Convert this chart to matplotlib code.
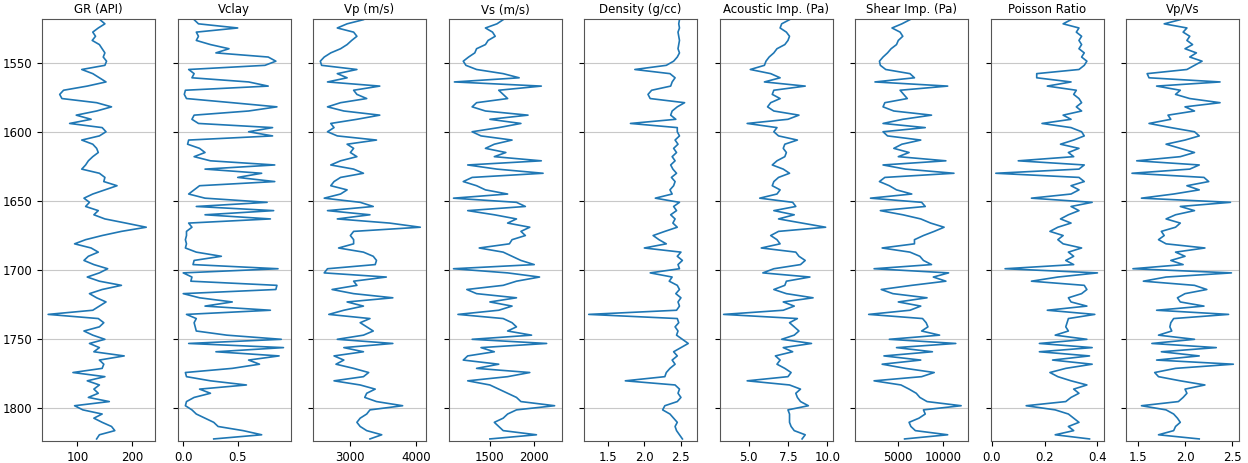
import numpy as np
import matplotlib
matplotlib.use("Agg")
import matplotlib.pyplot as plt

# depth samples (every 3 ft)
depth = np.arange(1519, 1823, 3)

gr = [141, 150, 138, 128, 133, 127, 140, 145, 150, 147,
      153, 150, 108, 128, 140, 152, 118, 75, 68, 72,
      135, 162, 135, 98, 125, 86, 145, 152, 140, 108,
      128, 135, 138, 128, 120, 115, 108, 140, 150, 148,
      172, 150, 128, 112, 122, 115, 138, 130, 150, 188,
      225, 180, 145, 115, 95, 125, 138, 120, 112, 130,
      155, 140, 118, 140, 180, 145, 122, 135, 152, 140,
      128, 47, 138, 148, 140, 112, 128, 150, 122, 140,
      130, 185, 140, 148, 145, 92, 150, 118, 140, 130,
      138, 120, 158, 95, 110, 145, 130, 145, 162, 168,
      140, 135]

vclay = [0.10, 0.14, 0.50, 0.12, 0.14, 0.12, 0.25, 0.42, 0.30, 0.78,
         0.85, 0.75, 0.05, 0.10, 0.08, 0.60, 0.78, 0.02, 0.01, 0.03,
         0.45, 0.86, 0.60, 0.10, 0.08, 0.14, 0.82, 0.60, 0.82, 0.05,
         0.04, 0.15, 0.20, 0.10, 0.25, 0.84, 0.20, 0.72, 0.50, 0.84,
         0.15, 0.10, 0.05, 0.20, 0.77, 0.12, 0.83, 0.20, 0.80, 0.05,
         0.08, 0.03, 0.03, 0.02, 0.03, 0.02, 0.12, 0.35, 0.10, 0.09,
         0.87, 0.00, 0.08, 0.07, 0.86, 0.85, 0.00, 0.15, 0.45, 0.20,
         0.80, 0.03, 0.12, 0.10, 0.11, 0.12, 0.40, 0.90, 0.05, 0.92,
         0.30, 0.88, 0.60, 0.70, 0.45, 0.02, 0.03, 0.25, 0.58, 0.15,
         0.25, 0.10, 0.03, 0.02, 0.08, 0.12, 0.20, 0.28, 0.32, 0.55,
         0.72, 0.28]

vp = [3200, 2950, 2800, 3050, 3100, 3020, 2950, 2850, 2700, 2600,
      2540, 2560, 3100, 2800, 2950, 2650, 3450, 3050, 3100, 3250,
      2850, 2650, 2900, 3450, 3100, 2700, 2750, 2650, 2800, 3400,
      2950, 3050, 3000, 3100, 2850, 2700, 3050, 3200, 2850, 2750,
      2700, 2950, 2850, 2600, 3150, 3350, 2650, 3300, 2800, 3600,
      4070, 3050, 3000, 3050, 3050, 2820, 3200, 3350, 3400, 3380,
      2650, 2600, 3550, 3050, 3100, 2720, 3050, 3650, 2950, 3200,
      2900, 2670, 3300, 3150, 3250, 3350, 3200, 2800, 3650, 2900,
      3200, 2750, 2900, 2780, 3050, 3280, 3200, 2750, 3150, 3380,
      3250, 3220, 3400, 3800, 3300, 3250, 3150, 3100, 3150, 3250,
      3480, 3300]

vs = [1650, 1580, 1450, 1530, 1560, 1480, 1450, 1350, 1330, 1260,
      1200, 1230, 1350, 1650, 1830, 1100, 2080, 1600, 1650, 1700,
      1350, 1300, 1450, 1930, 1500, 1850, 1600, 1300, 1400, 1750,
      1550, 1450, 1680, 1550, 2080, 1250, 1580, 2100, 1300, 1200,
      1350, 1450, 1700, 1090, 1800, 1900, 1250, 1550, 1800, 1700,
      1950, 1850, 1900, 1750, 1720, 1380, 1650, 1750, 1850, 2000,
      1090, 1700, 2060, 1800, 1650, 1240, 1350, 1800, 1500, 1750,
      1600, 1140, 1650, 1750, 1800, 1700, 1970, 1300, 2140, 1400,
      1550, 1250, 1200, 1600, 1350, 1950, 1700, 1250, 1500, 1600,
      1700, 1800, 1850, 2230, 1800, 1700, 1650, 1550, 1600, 1650,
      2025, 1500]

rho = [2.48, 2.47, 2.48, 2.46, 2.47, 2.48, 2.47, 2.46, 2.48, 2.45,
       2.40, 2.30, 1.87, 2.35, 2.42, 2.38, 2.36, 2.10, 2.05, 2.08,
       2.55, 2.45, 2.38, 2.36, 2.43, 1.81, 2.45, 2.45, 2.48, 2.42,
       2.46, 2.40, 2.44, 2.38, 2.42, 2.36, 2.39, 2.44, 2.37, 2.42,
       2.40, 2.35, 2.38, 2.15, 2.48, 2.40, 2.44, 2.36, 2.42, 2.39,
       2.45, 2.28, 2.12, 2.20, 2.30, 2.00, 2.50, 2.45, 2.52, 2.46,
       2.48, 2.08, 2.38, 2.34, 2.45, 2.48, 2.43, 2.50, 2.46, 2.48,
       2.44, 1.24, 2.45, 2.47, 2.42, 2.46, 2.44, 2.52, 2.60, 2.50,
       2.40, 2.45, 2.38, 2.42, 2.35, 2.30, 2.28, 1.74, 2.42, 2.48,
       2.46, 2.50, 2.45, 2.28, 2.25, 2.35, 2.40, 2.45, 2.42, 2.44,
       2.48, 2.52]

ai = [7.6, 7.1, 7.0, 7.4, 7.6, 7.5, 7.3, 6.8, 6.6, 6.3,
      6.1, 6.0, 5.1, 6.4, 7.0, 6.0, 8.6, 6.6, 6.5, 7.0,
      6.4, 6.2, 6.6, 8.2, 7.5, 4.9, 6.8, 6.6, 6.9, 8.1,
      7.3, 7.2, 7.4, 7.3, 6.8, 6.5, 7.2, 7.6, 6.9, 6.6,
      6.5, 7.0, 6.8, 5.7, 7.8, 8.0, 6.6, 7.9, 6.9, 8.4,
      9.9, 6.9, 6.4, 6.8, 7.0, 5.8, 8.0, 8.2, 8.6, 8.3,
      6.6, 5.9, 8.9, 7.4, 7.3, 6.6, 7.4, 9.1, 7.2, 7.9,
      7.2, 3.4, 8.1, 7.6, 7.9, 8.2, 7.9, 7.1, 9.0, 7.2,
      7.8, 6.7, 7.0, 6.8, 7.3, 7.7, 7.5, 4.9, 7.6, 8.3,
      8.0, 8.1, 8.3, 8.8, 7.5, 7.6, 7.6, 7.6, 7.7, 7.9,
      8.6, 8.4]

si = [6300, 5400, 4300, 5200, 5500, 5000, 4800, 4200, 3800, 3300,
      2900, 3000, 3600, 6300, 6800, 2400, 10500, 5200, 5600, 6000,
      3500, 3300, 4500, 8700, 5500, 3300, 8000, 3300, 3800, 7500,
      5400, 4500, 6200, 5000, 10300, 3300, 5800, 11200, 3500, 2900,
      4000, 4800, 6500, 1900, 7600, 8000, 3000, 5500, 7500, 8600,
      10100, 9000, 7800, 6800, 6800, 3200, 6300, 7400, 7800, 8700,
      2300, 10600, 8900, 10300, 6500, 3100, 4400, 8200, 5000, 7500,
      6300, 1700, 7700, 8100, 8300, 7600, 9600, 4000, 11400, 4800,
      8800, 3400, 7500, 3200, 5800, 9000, 7600, 2300, 5300, 6200,
      7000, 7400, 8200, 12000, 7800, 8000, 7300, 6200, 6400, 6900,
      10500, 5700]

pr = [0.30, 0.27, 0.33, 0.32, 0.34, 0.33, 0.34, 0.33, 0.35, 0.34,
      0.36, 0.35, 0.33, 0.17, 0.17, 0.30, 0.21, 0.32, 0.31, 0.33,
      0.34, 0.32, 0.34, 0.27, 0.30, 0.19, 0.30, 0.34, 0.35, 0.31,
      0.26, 0.33, 0.29, 0.31, 0.10, 0.35, 0.33, 0.015, 0.33, 0.35,
      0.30, 0.33, 0.30, 0.15, 0.38, 0.30, 0.33, 0.29, 0.26, 0.30,
      0.25, 0.22, 0.27, 0.25, 0.27, 0.34, 0.29, 0.31, 0.28, 0.31,
      0.05, 0.40, 0.25, 0.15, 0.35, 0.36, 0.34, 0.29, 0.30, 0.36,
      0.21, 0.39, 0.29, 0.285, 0.28, 0.29, 0.24, 0.36, 0.18, 0.38,
      0.18, 0.37, 0.23, 0.38, 0.28, 0.22, 0.25, 0.30, 0.36, 0.31,
      0.33, 0.30, 0.28, 0.13, 0.24, 0.29, 0.31, 0.33, 0.29, 0.31,
      0.24, 0.37]

vpvs = [1.95, 1.78, 2.02, 1.98, 2.05, 2.02, 2.08, 2.00, 2.12, 2.05,
        2.18, 2.10, 2.02, 1.60, 1.62, 2.37, 1.70, 1.95, 1.90, 2.05,
        2.37, 2.00, 2.10, 1.82, 1.85, 1.62, 1.85, 2.10, 2.15, 2.00,
        1.80, 1.95, 2.10, 1.95, 1.49, 2.15, 2.05, 1.44, 2.20, 2.25,
        2.02, 2.15, 1.88, 1.54, 2.48, 1.95, 2.10, 1.90, 1.80, 1.95,
        1.90, 1.75, 1.78, 1.72, 1.80, 2.21, 1.90, 2.00, 1.85, 1.98,
        1.45, 2.49, 1.80, 1.56, 2.10, 2.23, 2.00, 1.92, 1.95, 2.20,
        1.70, 2.46, 1.88, 1.85, 1.84, 1.86, 1.72, 2.10, 1.65, 2.33,
        1.75, 2.15, 1.70, 2.51, 1.90, 1.68, 1.72, 1.95, 2.21, 2.00,
        2.02, 1.98, 1.93, 1.54, 1.80, 1.88, 1.92, 1.95, 1.90, 1.88,
        1.72, 2.15]

titles = ["GR (API)", "Vclay", "Vp (m/s)", "Vs (m/s)", "Density (g/cc)",
          "Acoustic Imp. (Pa)", "Shear Imp. (Pa)", "Poisson Ratio", "Vp/Vs"]
curves = [gr, vclay, vp, vs, rho, ai, si, pr, vpvs]
xticks = [[100, 200], [0.0, 0.5], [3000, 4000], [1500, 2000], [1.5, 2.0, 2.5],
          [5.0, 7.5, 10.0], [5000, 10000], [0.0, 0.2, 0.4], [1.5, 2.0, 2.5]]
xlims = [(36, 241), (-0.052, 0.985), (2429, 4158), (1034, 2308), (1.176, 2.72),
         (3.14, 10.34), (180, 12765), (-0.005, 0.423), (1.377, 2.57)]

plt.rcParams['font.size'] = 8.5

fig, axes = plt.subplots(1, 9, sharey=True, figsize=(12.48, 4.63), dpi=100)
fig.subplots_adjust(left=0.0337, right=0.9928, top=0.959, bottom=0.0475, wspace=0.199)

for ax, t, c, xt, xl in zip(axes, titles, curves, xticks, xlims):
    ax.plot(c, depth, color='#1f77b4', lw=1.2)
    ax.set_title(t, fontsize=8.5, pad=4)
    ax.set_xticks(xt)
    ax.set_xlim(xl)
    ax.grid(axis='y', color='#c8c8c8', lw=0.8)
    for s in ax.spines.values():
        s.set_color('#555555')

axes[0].set_ylim(1823.5, 1518.5)
axes[0].set_yticks([1550, 1600, 1650, 1700, 1750, 1800])

plt.savefig('out.png')
